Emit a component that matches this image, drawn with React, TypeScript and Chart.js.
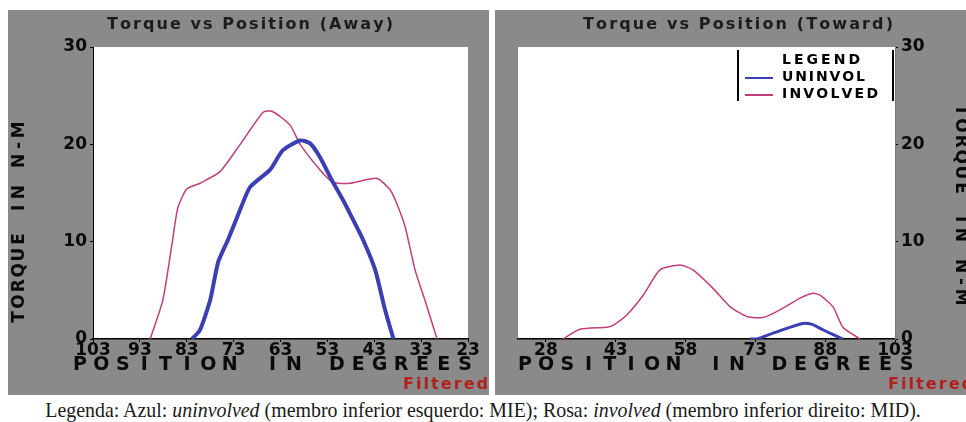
import React, { useEffect, useRef } from 'react';
import { Chart, registerables } from 'chart.js';

Chart.register(...registerables);

// ---------- DATA ----------
const seriesLabels = ['UNINVOL', 'INVOLVED'];

const awayUninvolDeg = [81.9, 80.2, 78, 76.3, 74.2, 71.6, 69.5, 65.2, 62.5, 58.8, 56.7, 54.6, 51.8, 49.7, 48.2, 45.4, 42.8, 40.7, 38.9];
const awayUninvolTorque = [0, 0.9, 4, 7.9, 10.2, 13.3, 15.6, 17.4, 19.4, 20.4, 20.1, 18.7, 16.1, 14.3, 12.9, 10.2, 7.1, 3, 0];

const awayInvolvedDeg = [90.8, 88.1, 86.1, 84.9, 83, 80.2, 75.9, 71.6, 66.7, 64.8, 61, 58.8, 54.6, 51.8, 48.2, 42.4, 39.6, 38.1, 36.4, 34.3, 32.2, 29.6];
const awayInvolvedTorque = [0, 4, 9.9, 13.5, 15.4, 16, 17.2, 20, 23.3, 23.4, 22, 20, 17.4, 16.1, 16, 16.5, 15.3, 13.8, 11.5, 7.1, 4, 0];

const towardUninvolDeg = [71.8, 73.4, 76.8, 80.4, 83.2, 85.2, 86.9, 89, 91.8];
const towardUninvolTorque = [0, 0, 0.6, 1.2, 1.6, 1.5, 1.1, 0.6, 0];

const towardInvolvedDeg = [31.7, 35.3, 41.1, 42.4, 45.4, 48.9, 52.5, 56.8, 59.6, 63.9, 67.6, 71.2, 74.6, 78.3, 82.6, 85.4, 86.9, 89.7, 91.8, 95.5];
const towardInvolvedTorque = [0, 1, 1.2, 1.4, 2.5, 4.5, 7.1, 7.6, 7.1, 5.2, 3.3, 2.3, 2.2, 3, 4.2, 4.7, 4.5, 3.3, 1.2, 0];

const awayTicks = [103, 93, 83, 73, 63, 53, 43, 33, 23];
const towardTicks = [28, 43, 58, 73, 88, 103];
const torqueTicks = [0, 10, 20, 30];

const awayTitle = 'Torque vs Position (Away)';
const towardTitle = 'Torque vs Position (Toward)';
const xTitle = 'POSITION IN DEGREES';
const yTitle = 'TORQUE IN N-M';
const filteredText = 'Filtered';
const legendTitle = 'LEGEND';

// ---------- STYLE ----------
const GRAY = '#8a8a8a';
const PINK = '#c03e7c';
const BLUE = '#3a3fb2';
const TICK_FONT = { family: '"DejaVu Sans", sans-serif', size: 17, weight: 'bold' as const };

const zip = (xs: number[], ys: number[]) => xs.map((x, i) => ({ x, y: ys[i] }));

function drawFit(ctx: CanvasRenderingContext2D, text: string, left: number, cy: number, width: number) {
  const chars = [...text];
  const ws = chars.map((c) => ctx.measureText(c).width);
  const sum = ws.reduce((a, b) => a + b, 0);
  const sp = chars.length > 1 ? (width - sum) / (chars.length - 1) : 0;
  ctx.textAlign = 'left';
  ctx.textBaseline = 'middle';
  let x = left;
  chars.forEach((c, i) => {
    ctx.fillText(c, x, cy);
    x += ws[i] + sp;
  });
}

function drawPitch(ctx: CanvasRenderingContext2D, text: string, x0: number, cy: number, pitch: number) {
  ctx.textAlign = 'center';
  ctx.textBaseline = 'middle';
  [...text].forEach((c, i) => ctx.fillText(c, x0 + i * pitch, cy));
}

type PanelCfg = {
  width: number;
  height: number;
  title: string;
  titleLeft: number;
  titleW: number;
  xTitleX0: number;
  xTitlePitch: number;
  yTitleX: number;
  yTitleY0: number;
  yTitleRot: number;
  filteredLeft: number;
  legend: boolean;
};

function makeDecor(cfg: PanelCfg) {
  return {
    id: 'decor',
    beforeDraw(chart: any) {
      const { ctx, chartArea } = chart;
      ctx.save();
      ctx.fillStyle = GRAY;
      ctx.fillRect(0, 0, chart.width, chart.height);
      ctx.fillStyle = '#ffffff';
      ctx.fillRect(chartArea.left, chartArea.top, chartArea.right - chartArea.left, chartArea.bottom - chartArea.top);
      ctx.restore();
    },
    afterDraw(chart: any) {
      const { ctx } = chart;
      ctx.save();
      // panel title
      ctx.fillStyle = '#1c1c1c';
      ctx.font = 'bold 16px "DejaVu Sans", sans-serif';
      drawFit(ctx, cfg.title, cfg.titleLeft, 15, cfg.titleW);
      // x title
      ctx.fillStyle = '#0a0a0a';
      ctx.font = 'bold 19px "DejaVu Sans", sans-serif';
      drawPitch(ctx, xTitle, cfg.xTitleX0, 355, cfg.xTitlePitch);
      // y title
      ctx.save();
      ctx.translate(cfg.yTitleX, cfg.yTitleY0);
      ctx.rotate(cfg.yTitleRot);
      ctx.font = 'bold 17px "DejaVu Sans", sans-serif';
      drawPitch(ctx, yTitle, 0, 0, 15.6);
      ctx.restore();
      // Filtered
      ctx.fillStyle = '#b3201c';
      ctx.font = 'bold 16px "DejaVu Sans", sans-serif';
      drawFit(ctx, filteredText, cfg.filteredLeft, 375, 85);
      // legend
      if (cfg.legend) {
        const left = 243;
        const right = 398;
        ctx.strokeStyle = '#000';
        ctx.lineWidth = 2;
        ctx.beginPath();
        ctx.moveTo(left, 40);
        ctx.lineTo(left, 91);
        ctx.moveTo(right, 40);
        ctx.lineTo(right, 91);
        ctx.stroke();
        ctx.fillStyle = '#000';
        ctx.font = 'bold 14px "DejaVu Sans", sans-serif';
        drawFit(ctx, legendTitle, 287, 50, 78);
        const widths = [83, 96];
        chart.data.datasets.forEach((ds: any, i: number) => {
          const y = 67 + i * 17;
          ctx.strokeStyle = ds.borderColor;
          ctx.lineWidth = 2;
          ctx.beginPath();
          ctx.moveTo(250, y + 1);
          ctx.lineTo(278, y + 1);
          ctx.stroke();
          ctx.fillStyle = '#000';
          drawFit(ctx, ds.label, 287, y, widths[i]);
        });
      }
      ctx.restore();
    },
  };
}

function Panel(props: {
  cfg: PanelCfg;
  left: number;
  datasets: any[];
  xMin: number;
  xMax: number;
  xTicks: number[];
  reverse: boolean;
  yPos: 'left' | 'right';
  padding: any;
  yWidth: number;
}) {
  const ref = useRef<HTMLCanvasElement | null>(null);
  useEffect(() => {
    if (!ref.current) return;
    const { cfg } = props;
    const chart = new Chart(ref.current, {
      type: 'line',
      data: { datasets: props.datasets },
      options: {
        animation: false,
        responsive: false,
        devicePixelRatio: 1,
        layout: { padding: props.padding },
        plugins: { legend: { display: false }, tooltip: { enabled: false }, title: { display: false } },
        elements: { point: { radius: 0 }, line: { tension: 0.2 } },
        scales: {
          x: {
            type: 'linear',
            min: props.xMin,
            max: props.xMax,
            reverse: props.reverse,
            afterBuildTicks: (s: any) => {
              s.ticks = props.xTicks.map((v) => ({ value: v }));
            },
            afterFit: (s: any) => {
              s.height = cfg.height - 329;
              s.paddingLeft = 0;
              s.paddingRight = 0;
            },
            grid: { display: true, drawOnChartArea: false, drawTicks: true, tickLength: 3, color: '#000' },
            border: { display: true, color: '#000', width: 1.5 },
            ticks: { color: '#0a0a0a', font: TICK_FONT, padding: -2, maxRotation: 0, autoSkip: false },
          },
          y: {
            type: 'linear',
            position: props.yPos,
            min: 0,
            max: 30,
            afterBuildTicks: (s: any) => {
              s.ticks = torqueTicks.map((v) => ({ value: v }));
            },
            afterFit: (s: any) => {
              s.width = props.yWidth;
              s.paddingTop = 0;
              s.paddingBottom = 0;
            },
            grid: { display: true, drawOnChartArea: false, drawTicks: true, tickLength: 3, color: '#000' },
            border: { display: true, color: props.yPos === 'left' ? '#000' : '#777', width: 1 },
            ticks: { color: '#0a0a0a', font: TICK_FONT, padding: 3 },
          },
        },
      },
      plugins: [makeDecor(cfg)],
    } as any);
    return () => chart.destroy();
  }, []);
  return (
    <canvas
      ref={ref}
      width={props.cfg.width}
      height={props.cfg.height}
      style={{ position: 'absolute', left: props.left, top: 10, width: props.cfg.width, height: props.cfg.height }}
    />
  );
}

export default function App() {
  const awayCfg: PanelCfg = {
    width: 481,
    height: 385,
    title: awayTitle,
    titleLeft: 99,
    titleW: 286,
    xTitleX0: 72,
    xTitlePitch: 21.4,
    yTitleX: 12,
    yTitleY0: 307,
    yTitleRot: -Math.PI / 2,
    filteredLeft: 395,
    legend: false,
  };
  const towardCfg: PanelCfg = {
    width: 471,
    height: 385,
    title: towardTitle,
    titleLeft: 88,
    titleW: 310,
    xTitleX0: 30,
    xTitlePitch: 21.2,
    yTitleX: 465,
    yTitleY0: 100,
    yTitleRot: Math.PI / 2,
    filteredLeft: 393,
    legend: true,
  };
  const awaySets = [
    { label: seriesLabels[0], data: zip(awayUninvolDeg, awayUninvolTorque), borderColor: BLUE, borderWidth: 4 },
    { label: seriesLabels[1], data: zip(awayInvolvedDeg, awayInvolvedTorque), borderColor: PINK, borderWidth: 1.5 },
  ];
  const towardSets = [
    { label: seriesLabels[0], data: zip(towardUninvolDeg, towardUninvolTorque), borderColor: BLUE, borderWidth: 3 },
    { label: seriesLabels[1], data: zip(towardInvolvedDeg, towardInvolvedTorque), borderColor: PINK, borderWidth: 1.5 },
  ];
  return (
    <div style={{ position: 'fixed', left: 0, top: 0, width: 966, height: 422, background: '#fff', overflow: 'hidden' }}>
      <Panel
        cfg={awayCfg}
        left={8}
        datasets={awaySets}
        xMin={23}
        xMax={103}
        xTicks={awayTicks}
        reverse={true}
        yPos="left"
        padding={{ left: 0, right: 21, top: 37, bottom: 0 }}
        yWidth={85}
      />
      <Panel
        cfg={towardCfg}
        left={495}
        datasets={towardSets}
        xMin={22}
        xMax={103}
        xTicks={towardTicks}
        reverse={false}
        yPos="right"
        padding={{ left: 23, right: 0, top: 37, bottom: 0 }}
        yWidth={71}
      />
      <div
        style={{
          position: 'absolute',
          left: 0,
          top: 399,
          width: 966,
          textAlign: 'center',
          fontFamily: '"Liberation Serif", "Times New Roman", serif',
          fontSize: 19.9,
          lineHeight: '22px',
          color: '#1a1a1a',
          whiteSpace: 'nowrap',
        }}
      >
        Legenda: Azul: <i>uninvolved</i> (membro inferior esquerdo: MIE); Rosa: <i>involved</i> (membro inferior direito: MID).
      </div>
    </div>
  );
}
